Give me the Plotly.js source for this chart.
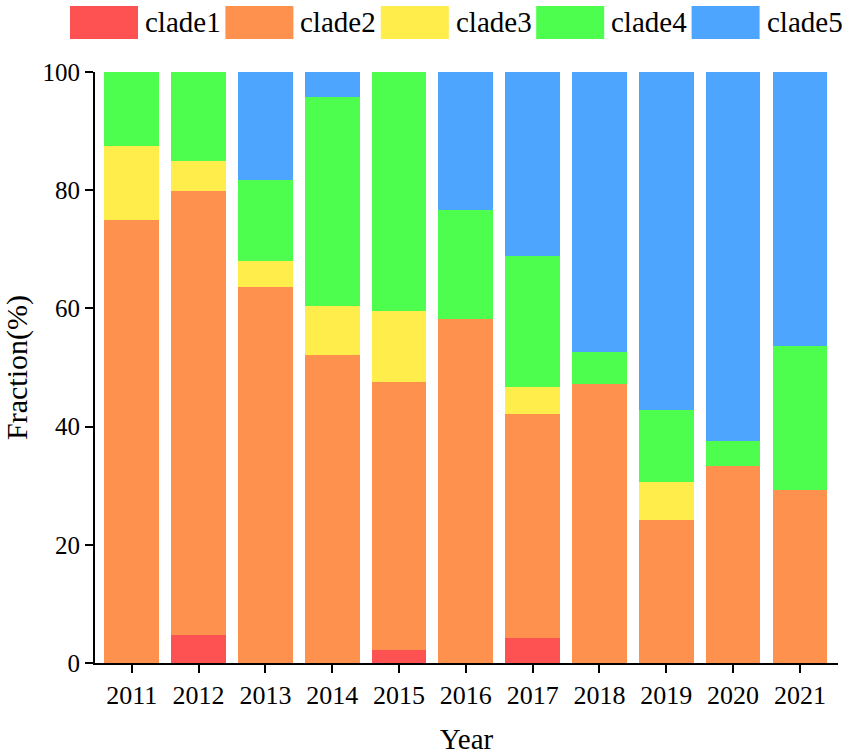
<!DOCTYPE html>
<html>
<head>
<meta charset="utf-8">
<script src="https://cdn.plot.ly/plotly-3.0.1.min.js"></script>
<style>
  html, body { margin: 0; padding: 0; background: #fff; }
  #chart { width: 851px; height: 755px; }
</style>
</head>
<body>
<div id="chart"></div>
<script>
// ─── Data ───────────────────────────────────────────────────
var years = ['2011', '2012', '2013', '2014', '2015', '2016', '2017', '2018', '2019', '2020', '2021'];
var clade1 = [0, 4.8, 0, 0, 2.2, 0, 4.3, 0, 0, 0, 0];
var clade2 = [75, 75, 63.6, 52.1, 45.4, 58.2, 37.9, 47.2, 24.2, 33.3, 29.3];
var clade3 = [12.5, 5.1, 4.5, 8.3, 11.9, 0, 4.5, 0, 6.4, 0, 0];
var clade4 = [12.5, 15.1, 13.7, 35.3, 40.5, 18.4, 22.1, 5.5, 12.2, 4.2, 24.4];
var clade5 = [0, 0, 18.2, 4.3, 0, 23.4, 31.2, 47.3, 57.2, 62.5, 46.3];

var seriesNames = ['clade1', 'clade2', 'clade3', 'clade4', 'clade5'];
var seriesValues = [clade1, clade2, clade3, clade4, clade5];
var colors = ['#FE5151', '#FE914D', '#FEED4B', '#4EFE4E', '#4EA5FE'];

var FONT = 'Liberation Serif, Times New Roman, serif';

var traces = seriesNames.map(function (name, i) {
  return {
    type: 'bar', name: name, x: years, y: seriesValues[i],
    marker: { color: colors[i], line: { width: 0 } },
    hoverinfo: 'x+y+name',
  };
});

// custom legend: large colour blocks along the top (pixel positions -> paper coords)
var PL = 95, PW = 743, PT = 72, PH = 591;
function px(x) { return (x - PL) / PW; }
function py(y) { return 1 + (PT - y) / PH; }

var shapes = [];
var annotations = [];
var legX0 = 70, legStep = 155.4, boxW = 68;
seriesNames.forEach(function (name, i) {
  var x0 = legX0 + i * legStep;
  shapes.push({
    type: 'rect', xref: 'paper', yref: 'paper',
    x0: px(x0), x1: px(x0 + boxW), y0: py(39), y1: py(6),
    fillcolor: colors[i], line: { width: 0 },
  });
  annotations.push({
    text: name, xref: 'paper', yref: 'paper',
    x: px(x0 + boxW + 5), y: py(22),
    xanchor: 'left', yanchor: 'middle', showarrow: false,
    font: { family: FONT, size: 29, color: '#000' },
  });
});

var layout = {
  width: 851, height: 755,
  margin: { l: PL, r: 851 - PL - PW, t: PT, b: 755 - PT - PH },
  paper_bgcolor: '#fff', plot_bgcolor: '#fff',
  barmode: 'stack', bargap: 0.18,
  showlegend: false,
  font: { family: FONT, color: '#000' },
  xaxis: {
    type: 'category', range: [-0.55, 10.57],
    showline: true, linewidth: 2, linecolor: '#000',
    ticks: 'outside', ticklen: 8, tickwidth: 2, tickcolor: '#000',
    showgrid: false, zeroline: false,
    tickfont: { family: FONT, size: 26, color: '#000' },
    title: { text: 'Year', font: { family: FONT, size: 29, color: '#000' }, standoff: 20 },
  },
  yaxis: {
    range: [0, 100], tickvals: [0, 20, 40, 60, 80, 100],
    showline: true, linewidth: 2, linecolor: '#000',
    ticks: 'outside', ticklen: 8, tickwidth: 2, tickcolor: '#000',
    showgrid: false, zeroline: false,
    tickfont: { family: FONT, size: 25, color: '#000' },
    title: { text: 'Fraction(%)', font: { family: FONT, size: 30, color: '#000' }, standoff: 10 },
  },
  shapes: shapes,
  annotations: annotations,
};

Plotly.newPlot('chart', traces, layout, { displayModeBar: false, staticPlot: true });
</script>
</body>
</html>
